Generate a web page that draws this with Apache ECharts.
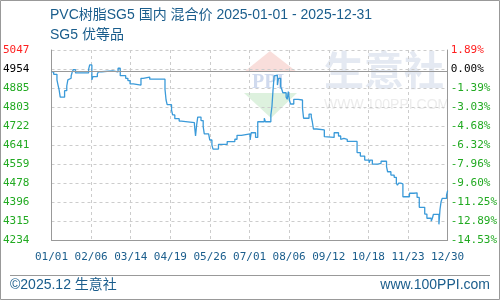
<!DOCTYPE html>
<html><head><meta charset="utf-8">
<script src="https://cdn.jsdelivr.net/npm/echarts@6/dist/echarts.min.js"></script>
<style>html,body{margin:0;padding:0;background:#fff}#c{width:500px;height:300px}</style>
</head><body><div id="c"></div>
<script>
const titleText = 'PVC树脂SG5 国内 混合价 2025-01-01 - 2025-12-31';
const subTitleText = 'SG5 优等品';
const dates = ['2025-01-01','2025-01-03','2025-01-06','2025-01-07','2025-01-08','2025-01-09','2025-01-13','2025-01-15','2025-01-16','2025-01-17','2025-01-19','2025-01-20','2025-01-21','2025-01-23',
'2025-02-04','2025-02-05','2025-02-07','2025-02-08','2025-02-12','2025-02-13','2025-02-16','2025-02-26',
'2025-03-03','2025-03-05','2025-03-10','2025-03-12','2025-03-14','2025-03-17','2025-03-24','2025-03-26',
'2025-04-01','2025-04-15','2025-04-16','2025-04-17','2025-04-21','2025-04-22','2025-04-24','2025-04-28','2025-04-30',
'2025-05-12','2025-05-13','2025-05-14','2025-05-15','2025-05-18','2025-05-20','2025-05-21','2025-05-25','2025-05-26','2025-05-28','2025-05-29',
'2025-06-03','2025-06-11','2025-06-18','2025-06-20','2025-06-24','2025-06-28',
'2025-07-02','2025-07-03','2025-07-07','2025-07-09','2025-07-15','2025-07-16','2025-07-21','2025-07-22','2025-07-23','2025-07-24','2025-07-25','2025-07-27','2025-07-28','2025-07-30','2025-07-31',
'2025-08-01','2025-08-04','2025-08-05','2025-08-06','2025-08-07','2025-08-08','2025-08-11','2025-08-15','2025-08-19','2025-08-20','2025-08-25','2025-08-27','2025-08-28','2025-08-29',
'2025-09-01','2025-09-08','2025-09-09','2025-09-17','2025-09-21','2025-09-23','2025-09-24','2025-09-26','2025-09-29',
'2025-10-08','2025-10-11','2025-10-15','2025-10-19','2025-10-20','2025-10-22','2025-10-27','2025-10-30',
'2025-11-04','2025-11-05','2025-11-08','2025-11-11','2025-11-13','2025-11-14','2025-11-15','2025-11-17','2025-11-19','2025-11-25','2025-11-29',
'2025-12-02','2025-12-04','2025-12-09','2025-12-11','2025-12-15','2025-12-16','2025-12-17','2025-12-22','2025-12-23','2025-12-24','2025-12-25','2025-12-29','2025-12-30'];
const prices = [4954,4943,4919,4897,4876,4845,4873,4893,4919,4926,4936,4953,4963,4949,
4964,4983,4919,4933,4944,4954,4958,4953,
4969,4937,4926,4916,4902,4897,4926,4931,
4922,4879,4833,4813,4790,4769,4753,4743,4736,
4726,4679,4726,4760,4745,4719,4688,4682,4662,4640,4623,
4643,4655,4665,4682,4685,4688,
4662,4693,4673,4740,4755,4740,4769,4805,4876,4936,4939,4897,4926,4890,4879,
4864,4845,4836,4869,4833,4816,4836,4833,4798,4755,4773,4762,4740,4709,
4705,4676,4673,4693,4679,4665,4669,4665,4656,
4608,4593,4576,4565,4576,4559,4562,4571,
4548,4526,4512,4502,4477,4468,4477,4474,4419,4434,4436,
4416,4374,4345,4327,4315,4327,4344,4301,4365,4398,4412,4427,4445];
const basePrice = 4954;
const yTicks = [4234,4315.3,4396.6,4477.9,4559.2,4640.5,4721.8,4803.1,4884.4,4965.7,5047];
const leftLabels = ['4234','4315','4396','4478','4559','4641','4722','4803','4885','4954','5047'];
const rightLabels = ['-14.53%','-12.89%','-11.25%','-9.60%','-7.96%','-6.32%','-4.68%','-3.03%','-1.39%','0.00%','1.89%'];
const xTickLabels = ['01/01','02/06','03/14','04/19','05/26','07/01','08/06','09/12','10/18','11/23','12/30'];
const startDate = '2025-01-01', endDate = '2025-12-30';

const dayOf = s => Math.round((Date.parse(s) - Date.parse(startDate)) / 86400000);
const xMax = dayOf(endDate);
const xInterval = xMax / (xTickLabels.length - 1);
const seriesData = dates.map((d, i) => [dayOf(d), prices[i]]);
const tickIdx = v => { let b = 0; yTicks.forEach((t, i) => { if (Math.abs(t - v) < Math.abs(yTicks[b] - v)) b = i; }); return b; };
const labelColor = v => { const i = tickIdx(v); return i === yTicks.length - 1 ? '#ff2020' : (i === yTicks.length - 2 ? '#000000' : '#22aa22'); };
const labelFont = 'DejaVu Sans Mono';
const blue = '#1a5d8c';

const chart = echarts.init(document.getElementById('c'));
chart.setOption({
  animation: false,
  backgroundColor: '#fff',
  grid: { left: 50, right: 50, top: 50, bottom: 60, containLabel: false },
  xAxis: {
    type: 'value', min: 0, max: xMax, interval: xInterval,
    axisLine: { show: true, lineStyle: { color: '#999', width: 1 } },
    axisTick: { show: false },
    splitLine: { show: true, lineStyle: { color: '#ccc', type: [3, 3], width: 1 } },
    axisLabel: { margin: 12, color: blue, fontFamily: labelFont, fontSize: 11,
      formatter: v => xTickLabels[Math.round(v / xInterval)] }
  },
  yAxis: [{
    type: 'value', min: yTicks[0], max: yTicks[yTicks.length - 1], position: 'left',
    axisLine: { show: true, onZero: false, lineStyle: { color: '#999', width: 1 } },
    axisTick: { show: false, customValues: yTicks },
    splitLine: { show: true, lineStyle: { color: '#ccc', type: [3, 3], width: 1 } },
    axisLabel: { customValues: yTicks, margin: 22, fontFamily: labelFont, fontSize: 11,
      color: labelColor, formatter: v => leftLabels[tickIdx(v)] }
  }, {
    type: 'value', min: yTicks[0], max: yTicks[yTicks.length - 1], position: 'right',
    axisLine: { show: true, onZero: false, lineStyle: { color: '#999', width: 1 } },
    axisTick: { show: false, customValues: yTicks },
    splitLine: { show: false },
    axisLabel: { customValues: yTicks, margin: 3, fontFamily: labelFont, fontSize: 11,
      color: labelColor, formatter: v => rightLabels[tickIdx(v)] }
  }],
  graphic: [
    { type: 'text', left: 50, top: 8, z: 10, style: { text: titleText, fill: blue, font: '14px "Liberation Sans", "Noto Sans CJK SC", sans-serif' } },
    { type: 'text', left: 50, top: 28, z: 10, style: { text: subTitleText, fill: blue, font: '14px "Liberation Sans", "Noto Sans CJK SC", sans-serif' } },
    { type: 'polygon', z: -1, shape: { points: [[270, 51], [297, 72], [244, 72]] }, style: { fill: '#f9dedb' } },
    { type: 'text', z: -1, x: 252, y: 73, style: { text: 'PPI', fill: '#d0daee', font: 'bold 20px "Liberation Serif", serif' } },
    { type: 'polygon', z: -1, shape: { points: [[244, 93], [297, 93], [271, 118]] }, style: { fill: '#ddf1de' } },
    { type: 'text', z: -1, x: 324, y: 50, style: { text: '生意社', fill: '#e4e9f2', font: 'bold 40px "Noto Sans CJK SC", sans-serif' } },
    { type: 'text', z: -1, x: 324, y: 98, style: { text: 'WWW.100PPI.COM', fill: '#ececec', font: '14px "Liberation Sans", sans-serif' } },
    { type: 'line', z: 10, shape: { x1: 10, y1: 275.5, x2: 490, y2: 275.5 }, style: { stroke: '#999', lineWidth: 1 } },
    { type: 'text', z: 10, left: 10, top: 278, style: { text: '©2025.12 生意社', fill: blue, font: '14px "Liberation Sans", "Noto Sans CJK SC", sans-serif' } },
    { type: 'text', z: 10, right: 10, top: 278, style: { text: 'www.100PPI.com', fill: blue, font: '14px "Liberation Sans", sans-serif' } },
    { type: 'rect', z: 10, shape: { x: 0.5, y: 0.5, width: 499, height: 299 }, style: { fill: 'none', stroke: '#999', lineWidth: 1 } }
  ],
  series: [{
    type: 'line', yAxisIndex: 0, step: 'end', data: seriesData, showSymbol: false,
    lineStyle: { color: '#3a9ad9', width: 1.3 }, itemStyle: { color: '#3a9ad9' },
    markLine: { silent: true, symbol: 'none', label: { show: false },
      lineStyle: { color: '#999', type: 'solid', width: 1 }, data: [{ yAxis: basePrice }] }
  }]
});
</script></body></html>
